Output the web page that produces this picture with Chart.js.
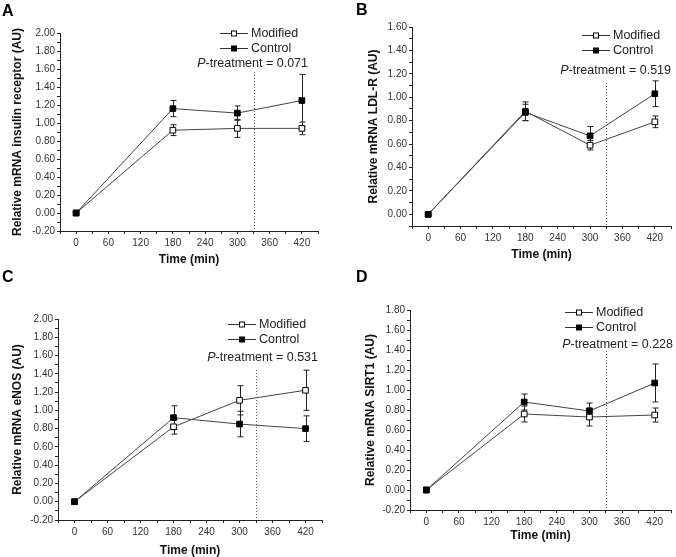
<!DOCTYPE html>
<html>
<head>
<meta charset="utf-8">
<script src="https://cdn.jsdelivr.net/npm/chart.js@4/dist/chart.umd.min.js"></script>
<style>
  body { margin: 0; background: #fff; }
  .panel { position: absolute; }
  .tag { position: absolute; font: bold 16px "Liberation Sans", Arial, sans-serif; color: #000; }
</style>
</head>
<body>
<div class="panel" style="left:0;top:0"><canvas id="chartA" width="338" height="278"></canvas></div>
<div class="panel" style="left:338px;top:0"><canvas id="chartB" width="338" height="278"></canvas></div>
<div class="panel" style="left:0;top:278px"><canvas id="chartC" width="338" height="279"></canvas></div>
<div class="panel" style="left:338px;top:278px"><canvas id="chartD" width="338" height="279"></canvas></div>
<div class="tag" style="left:2px;top:2px">A</div>
<div class="tag" style="left:356px;top:1px">B</div>
<div class="tag" style="left:2px;top:268px">C</div>
<div class="tag" style="left:356px;top:268px">D</div>
<script>
const times = [0, 180, 300, 420];
const seriesNames = ['Modified', 'Control'];

const modifiedA = [0, 0.92, 0.94, 0.94];
const modifiedErrA = [0, 0.06, 0.10, 0.07];
const controlA = [0, 1.16, 1.11, 1.25];
const controlErrA = [0, 0.09, 0.08, 0.29];

const modifiedB = [0, 0.88, 0.59, 0.79];
const modifiedErrB = [0, 0.08, 0.04, 0.05];
const controlB = [0, 0.87, 0.67, 1.03];
const controlErrB = [0, 0.07, 0.08, 0.11];

const modifiedC = [0, 0.82, 1.11, 1.22];
const modifiedErrC = [0, 0.08, 0.16, 0.22];
const controlC = [0, 0.92, 0.85, 0.80];
const controlErrC = [0, 0.13, 0.14, 0.14];

const modifiedD = [0, 0.76, 0.73, 0.75];
const modifiedErrD = [0, 0.08, 0.09, 0.07];
const controlD = [0, 0.88, 0.79, 1.07];
const controlErrD = [0, 0.08, 0.08, 0.19];

const pValues = ['0.071', '0.519', '0.531', '0.228'];
const yTitles = [
  'Relative mRNA insulin receptor (AU)',
  'Relative mRNA LDL-R (AU)',
  'Relative mRNA eNOS (AU)',
  'Relative mRNA SIRT1 (AU)'
];
const yRanges = [[-0.2, 2.0], [-0.1, 1.6], [-0.2, 2.0], [-0.2, 1.8]];
const treatmentLine = 330;

const FONT = '"Liberation Sans", Arial, sans-serif';
const INK = '#222';

// error bars drawn under the points
const errorBars = {
  id: 'errorBars',
  beforeDatasetsDraw(chart) {
    const { ctx, scales: { x, y } } = chart;
    ctx.save();
    ctx.strokeStyle = INK;
    ctx.lineWidth = 1;
    chart.data.datasets.forEach(ds => {
      ds.data.forEach((p, i) => {
        const e = ds.errors[i];
        if (!e) return;
        const px = Math.round(x.getPixelForValue(p.x)) + 0.5;
        const top = y.getPixelForValue(p.y + e);
        const bot = y.getPixelForValue(p.y - e);
        ctx.beginPath();
        ctx.moveTo(px, top); ctx.lineTo(px, bot);
        ctx.moveTo(px - 3, top); ctx.lineTo(px + 3, top);
        ctx.moveTo(px - 3, bot); ctx.lineTo(px + 3, bot);
        ctx.stroke();
      });
    });
    ctx.restore();
  }
};

// legend, P-treatment note and dotted marker line
const notes = {
  id: 'notes',
  afterDraw(chart, args, o) {
    const { ctx, scales: { x }, chartArea } = chart;
    ctx.save();
    // dotted line
    const lx = Math.round(x.getPixelForValue(treatmentLine)) + 0.5;
    ctx.strokeStyle = '#555';
    ctx.setLineDash([1, 2]);
    ctx.beginPath();
    ctx.moveTo(lx, o.dotTop);
    ctx.lineTo(lx, chartArea.bottom);
    ctx.stroke();
    ctx.setLineDash([]);

    // legend rows
    chart.data.datasets.forEach((ds, i) => {
      const ry = o.legendY + i * 15 + 0.5;
      ctx.strokeStyle = '#333';
      ctx.beginPath();
      ctx.moveTo(o.legendX, ry);
      ctx.lineTo(o.legendX + 28, ry);
      ctx.stroke();
      const cx = o.legendX + 14;
      ctx.fillStyle = ds.pointBackgroundColor;
      ctx.fillRect(cx - 2.5, ry - 2.5, 5, 5);
      ctx.strokeStyle = '#000';
      ctx.strokeRect(cx - 2.5, ry - 2.5, 5, 5);
      ctx.fillStyle = INK;
      ctx.font = '12.5px ' + FONT;
      ctx.textBaseline = 'middle';
      ctx.textAlign = 'left';
      ctx.fillText(ds.label, o.legendX + 31, ry);
    });

    // P-treatment text
    ctx.textBaseline = 'middle';
    ctx.font = 'italic 12.5px ' + FONT;
    const wP = ctx.measureText('P').width;
    ctx.font = '12.5px ' + FONT;
    const rest = '-treatment = ' + o.p;
    const wR = ctx.measureText(rest).width;
    const sx = o.pRight - wP - wR;
    ctx.font = 'italic 12.5px ' + FONT;
    ctx.fillText('P', sx, o.pY);
    ctx.font = '12.5px ' + FONT;
    ctx.fillText(rest, sx + wP, o.pY);
    ctx.restore();
  }
};

function makeChart(id, idx, modified, modifiedErr, control, controlErr, box, note) {
  const [ymin, ymax] = yRanges[idx];
  return new Chart(document.getElementById(id), {
    type: 'scatter',
    data: {
      datasets: [
        {
          label: seriesNames[0],
          data: times.map((t, i) => ({ x: t, y: modified[i] })),
          errors: modifiedErr,
          order: 1,
          showLine: true,
          borderColor: '#444',
          borderWidth: 1,
          pointStyle: 'rect',
          pointRadius: 4,
          pointBackgroundColor: '#fff',
          pointBorderColor: '#000',
          pointBorderWidth: 1
        },
        {
          label: seriesNames[1],
          data: times.map((t, i) => ({ x: t, y: control[i] })),
          errors: controlErr,
          order: 0,
          showLine: true,
          borderColor: '#444',
          borderWidth: 1,
          pointStyle: 'rect',
          pointRadius: 4,
          pointBackgroundColor: '#000',
          pointBorderColor: '#000',
          pointBorderWidth: 1
        }
      ]
    },
    options: {
      responsive: false,
      animation: false,
      layout: { padding: { left: 0, top: box.top, right: 338 - box.right, bottom: box.padBottom } },
      plugins: {
        legend: { display: false },
        tooltip: { enabled: false },
        notes: Object.assign({ p: pValues[idx] }, note)
      },
      scales: {
        x: {
          type: 'linear',
          min: -30,
          max: 450,
          afterFit: s => { s.height = box.xHeight; },
          border: { display: true, color: INK, width: 1 },
          grid: { drawOnChartArea: false, drawTicks: true, tickLength: 3, tickColor: INK },
          ticks: {
            stepSize: 30,
            autoSkip: false,
            maxRotation: 0,
            padding: 3,
            color: '#333',
            font: { family: FONT, size: 10 },
            callback: v => (v >= 0 && v <= 420 && v % 60 === 0) ? String(v) : ''
          },
          title: {
            display: true,
            text: 'Time (min)',
            color: '#111',
            padding: { top: 0, bottom: 0 },
            font: { family: FONT, size: 12, weight: 'bold', lineHeight: 1 }
          }
        },
        y: {
          min: ymin,
          max: ymax,
          afterFit: s => { s.width = box.left; },
          border: { display: true, color: INK, width: 1 },
          grid: { drawOnChartArea: false, drawTicks: true, tickLength: 3, tickColor: INK },
          ticks: {
            stepSize: 0.1,
            autoSkip: false,
            padding: 2,
            color: '#333',
            font: { family: FONT, size: 10 },
            callback: v => Math.round(v * 10) % 2 === 0 ? v.toFixed(2) : ''
          },
          title: {
            display: true,
            text: yTitles[idx],
            color: '#111',
            padding: { top: box.titleX - 7, bottom: 0 },
            font: { family: FONT, size: 12, weight: 'bold', lineHeight: 1.2 }
          }
        }
      }
    },
    plugins: [errorBars, notes]
  });
}

makeChart('chartA', 0, modifiedA, modifiedErrA, controlA, controlErrA,
  { left: 60, top: 33, right: 318, padBottom: 12, xHeight: 35, titleX: 17 },
  { legendX: 220, legendY: 33, pRight: 308, pY: 64, dotTop: 72 });
makeChart('chartB', 1, modifiedB, modifiedErrB, controlB, controlErrB,
  { left: 74, top: 27, right: 337, padBottom: 17, xHeight: 35, titleX: 35 },
  { legendX: 244, legendY: 35, pRight: 333, pY: 71, dotTop: 83 });
makeChart('chartC', 2, modifiedC, modifiedErrC, controlC, controlErrC,
  { left: 58, top: 41, right: 322, padBottom: 0, xHeight: 37, titleX: 17 },
  { legendX: 228, legendY: 46, pRight: 318, pY: 80, dotTop: 92 });
makeChart('chartD', 3, modifiedD, modifiedErrD, controlD, controlErrD,
  { left: 72, top: 32, right: 336, padBottom: 15, xHeight: 32, titleX: 32 },
  { legendX: 227, legendY: 34, pRight: 335, pY: 67, dotTop: 73 });
</script>
</body>
</html>
